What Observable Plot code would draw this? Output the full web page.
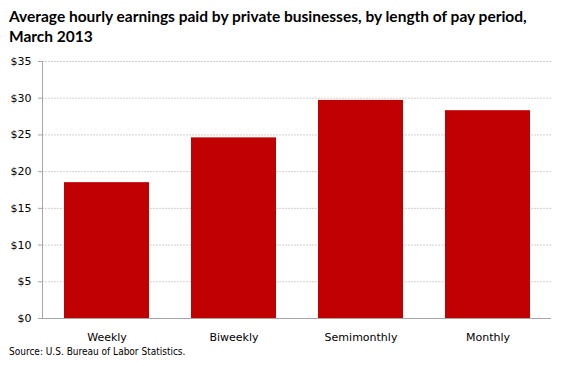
<!DOCTYPE html>
<html><head><meta charset="utf-8">
<script src="https://cdn.jsdelivr.net/npm/d3@7"></script>
<script src="https://cdn.jsdelivr.net/npm/@observablehq/plot@0.6"></script>
<style>
body{margin:0;background:#fff;}
#wrap{position:relative;width:582px;height:366px;overflow:hidden;}
#title{position:absolute;left:9px;top:6px;font-family:Lato,sans-serif;font-weight:bold;font-size:15.5px;line-height:20px;color:#000;}
#chart{position:absolute;left:0;top:52px;}
#caption{position:absolute;left:9px;top:346px;font-family:"DejaVu Sans Condensed","DejaVu Sans",sans-serif;font-size:10px;color:#000;}
</style></head>
<body><div id="wrap">
<div id="title">Average hourly earnings paid by private businesses, by length of pay period,<br>March 2013</div>
<div id="chart"></div>
<div id="caption">Source: U.S. Bureau of Labor Statistics.</div>
</div>
<script>
const categories = ["Weekly", "Biweekly", "Semimonthly", "Monthly"];
const earnings = [18.5, 24.6, 29.7, 28.3];
const yTicks = [0, 5, 10, 15, 20, 25, 30, 35];
const data = categories.map((c, i) => ({period: c, value: earnings[i]}));

const chart = Plot.plot({
  width: 582, height: 296,
  marginLeft: 42, marginRight: 31, marginTop: 9, marginBottom: 30,
  style: {fontFamily: "DejaVu Sans, sans-serif", fontSize: "11px", color: "#000", background: "#fff"},
  x: {domain: categories, paddingInner: 0.333, paddingOuter: 0.1667, label: null},
  y: {domain: [0, 35], label: null},
  marks: [
    Plot.gridY(yTicks.filter(d => d > 0), {stroke: "#d0d0d0", strokeOpacity: 1, strokeDasharray: "2,1"}),
    Plot.barY(data, {x: "period", y: "value", fill: "#c00000"}),
    Plot.axisY(yTicks, {tickFormat: d => "$" + d, tickSize: 4, tickPadding: 7, stroke: "#a6a6a6", label: null}),
    Plot.axisX({tickSize: 0, tickPadding: 15, label: null}),
    Plot.frame({anchor: "left", stroke: "#a6a6a6"}),
    Plot.ruleY([0], {stroke: "#a6a6a6"})
  ]
});
document.getElementById("chart").appendChild(chart);
</script>
</body></html>
